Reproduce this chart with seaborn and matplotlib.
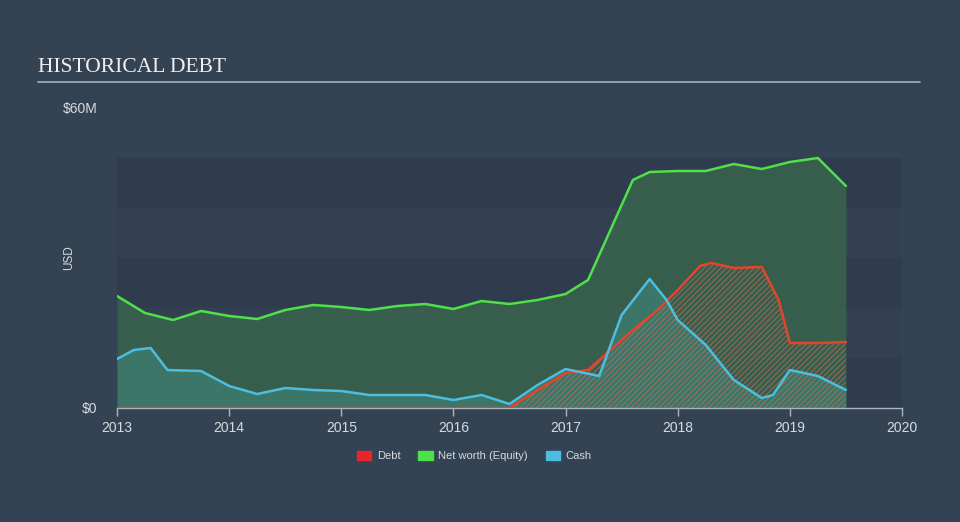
import matplotlib
matplotlib.use("Agg")
import matplotlib.pyplot as plt
import matplotlib.patches as mpatches
import seaborn as sns
import numpy as np
import pandas as pd

# ---- data (USD millions) ----
equity_x = [2013.0, 2013.25, 2013.5, 2013.75, 2014.0, 2014.25, 2014.5, 2014.75, 2015.0, 2015.25,
            2015.5, 2015.75, 2016.0, 2016.25, 2016.5, 2016.75, 2017.0, 2017.2, 2017.4, 2017.6,
            2017.75, 2018.0, 2018.25, 2018.5, 2018.75, 2019.0, 2019.25, 2019.5]
equity_y = [22.4, 19.0, 17.6, 19.4, 18.4, 17.8, 19.6, 20.6, 20.2, 19.6,
            20.4, 20.8, 19.8, 21.4, 20.8, 21.6, 22.8, 25.6, 35.6, 45.6,
            47.2, 47.4, 47.4, 48.8, 47.8, 49.2, 50.0, 44.4]

debt_x = [2013.0, 2016.5, 2016.75, 2017.0, 2017.2, 2017.4, 2017.6, 2017.8, 2018.0, 2018.2,
          2018.3, 2018.5, 2018.75, 2018.9, 2019.0, 2019.25, 2019.5]
debt_y = [0.0, 0.0, 3.6, 7.0, 7.6, 11.6, 15.6, 19.2, 23.6, 28.4,
          29.0, 28.0, 28.2, 21.6, 13.0, 13.0, 13.2]

cash_x = [2013.0, 2013.15, 2013.3, 2013.45, 2013.75, 2014.0, 2014.25, 2014.5, 2014.75, 2015.0,
          2015.25, 2015.5, 2015.75, 2016.0, 2016.25, 2016.5, 2016.75, 2017.0, 2017.3, 2017.5,
          2017.75, 2017.9, 2018.0, 2018.25, 2018.5, 2018.75, 2018.85, 2019.0, 2019.25, 2019.5]
cash_y = [9.8, 11.6, 12.0, 7.6, 7.4, 4.4, 2.8, 4.0, 3.6, 3.4,
          2.6, 2.6, 2.6, 1.6, 2.6, 0.8, 4.6, 7.8, 6.4, 18.6,
          25.8, 21.6, 17.6, 12.6, 5.6, 2.0, 2.6, 7.6, 6.4, 3.6]

year_ticks = [2013, 2014, 2015, 2016, 2017, 2018, 2019, 2020]
series_names = ["Debt", "Net worth (Equity)", "Cash"]

BG = "#344353"
GREEN = "#4fe04a"
RED = "#e4452a"
BLUE = "#4cbee0"
TEXT = "#d6dbe0"

sns.set_theme(style="dark")
plt.rcParams["font.family"] = ["Liberation Sans", "DejaVu Sans"]

fig = plt.figure(figsize=(9.6, 5.22), dpi=100, facecolor=BG)
ax = fig.add_axes([117/960, 1-408/522, (902-117)/960, 300/522])
ax.set_facecolor(BG)

# horizontal bands
for i, lo in enumerate(range(0, 50, 10)):
    ax.axhspan(lo, lo+10, color="#2f3c4d" if i % 2 == 0 else "#324051", zorder=0, lw=0)

df_e = pd.DataFrame({"x": equity_x, "y": equity_y})
df_d = pd.DataFrame({"x": debt_x, "y": debt_y})
df_c = pd.DataFrame({"x": cash_x, "y": cash_y})

ax.fill_between(df_e.x, df_e.y, color="#3b6a4c", alpha=0.75, lw=0, zorder=1)
ax.fill_between(df_c.x, df_c.y, color="#3f8a80", alpha=0.55, lw=0, zorder=2)
plt.rcParams["hatch.linewidth"] = 0.6
ax.fill_between(df_d.x, df_d.y, facecolor="none", edgecolor="#c8705a", hatch="//////", lw=0, zorder=3, alpha=0.8)

sns.lineplot(data=df_e, x="x", y="y", ax=ax, color=GREEN, lw=1.8, zorder=5)
sns.lineplot(data=df_d, x="x", y="y", ax=ax, color=RED, lw=1.8, zorder=5)
sns.lineplot(data=df_c, x="x", y="y", ax=ax, color=BLUE, lw=1.8, zorder=6)

ax.set_xlim(2013, 2020)
ax.set_ylim(0, 60)
ax.set_xticks(year_ticks)
ax.set_xticklabels([str(y) for y in year_ticks], color=TEXT, fontsize=10)
ax.set_yticks([0, 60])
ax.set_yticklabels(["$0", "$60M"], color=TEXT, fontsize=10)
ax.tick_params(axis="x", length=6, color="#aab4c0", width=1, pad=3, bottom=True)
ax.tick_params(axis="y", length=0, pad=14)
ax.set_xlabel("")
ax.set_ylabel("USD", color=TEXT, fontsize=8.5)
ax.yaxis.set_label_coords((75-117)/785, 0.5)
for s in ["top", "right", "left"]:
    ax.spines[s].set_visible(False)
ax.spines["bottom"].set_color("#aab4c0")
ax.spines["bottom"].set_linewidth(1)
ax.grid(False)

# title
fig.text(38/960, 1-67/522, "HISTORICAL DEBT", family="Liberation Serif", fontsize=15.5,
         color="#f0f0f0", va="center", ha="left")
fig.add_artist(plt.Line2D([38/960, 920/960], [1-82/522, 1-82/522], color="#a8b0b8", lw=1.2))

handles = [mpatches.Patch(color=c, label=n) for c, n in zip(["#e8252a", "#4ce04a", "#4cbce0"], series_names)]
leg = fig.legend(handles=handles, loc="center", bbox_to_anchor=(0.494, 1-456/522), ncol=3,
                 frameon=False, fontsize=8, labelcolor=TEXT, handlelength=1.3, handleheight=0.9,
                 columnspacing=1.6, handletextpad=0.5)

fig.savefig("out.png", dpi=100, facecolor=BG)
